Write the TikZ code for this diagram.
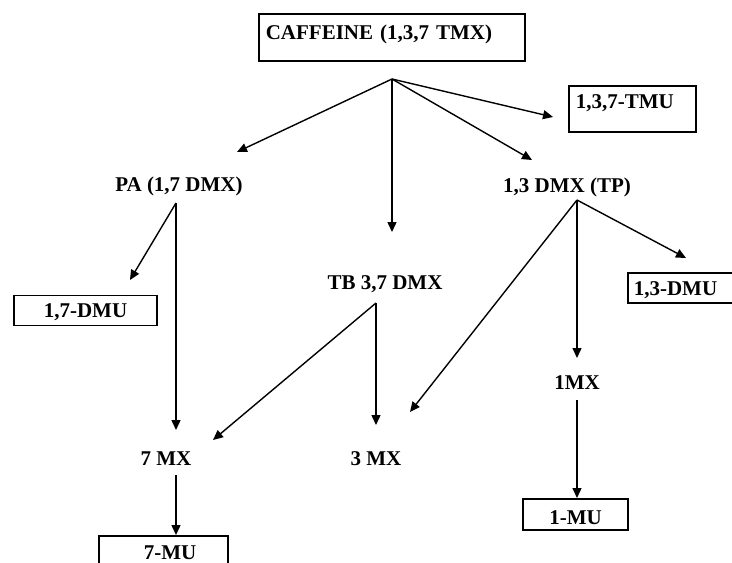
\documentclass[tikz,border=0pt]{standalone}
\usepackage{fontspec}
\setmainfont{Liberation Serif}
\usetikzlibrary{%
    arrows.meta,
    positioning
}
\tikzset{headarrow/.style = {-{Triangle[length=10pt,width=9pt]}, line width=1.4pt}}

\begin{document}
\begin{tikzpicture}[x=1pt, y=-1pt,
    chem/.style = {font=\fontsize{21}{24}\selectfont\bfseries,
        inner sep=0pt, text height=14pt, text depth=0pt},
    box/.style = {chem, draw, line width=1.6pt},
    leftbox/.style = {box, anchor=north west, align=left}]
    \useasboundingbox (0,0) rectangle (732,563);
    \clip (0,0) rectangle (732,563);

    % boxed products
    \node[leftbox, text width=252pt, inner xsep=7pt, inner ysep=11pt,
        text height=15pt, text depth=10pt] (caffeine) at (258,13) {CAFFEINE (1,3,7 TMX)};
    \node[leftbox, text width=113pt, inner xsep=7pt, inner ysep=8pt,
        text height=15pt, text depth=15pt] (tmu) at (568,85) {1,3,7-TMU};
    \node[box, minimum width=143pt, minimum height=30pt] (dmu17) at (85.5,310.5) {1,7-DMU};
    \node[leftbox, text width=104pt, inner xsep=6pt, inner ysep=7pt,
        text height=16pt] (dmu13) at (627,272) {1,3-DMU};
    \node[box, minimum width=105pt, inner ysep=5.5pt, text height=20pt,
        anchor=north] (mu1) at (575.5,498) {1-MU};
    \node[box, minimum width=129pt, inner ysep=10pt, text height=14pt,
        text depth=20pt, anchor=north] (mu7) at (163.5,535) {\hspace*{13pt}7-MU};

    % metabolites
    \node[chem] (pa) at (179,184.5) {PA (1,7 DMX)};
    \node[chem] (tb) at (385,282) {TB 3,7 DMX};
    \node[chem] (tp) at (567,185) {1,3 DMX (TP)};
    \node[chem] (mx1) at (577,382) {1MX};
    \node[chem] (mx7) at (166,458.5) {7 MX};
    \node[chem] (mx3) at (376,458.5) {3 MX};

    % branch points
    \coordinate (cafOut) at (392,79);
    \coordinate (paOut) at (176,203);
    \coordinate (tbOut) at (376,303);
    \coordinate (tpOut) at (577,200);
    \coordinate (mx1Out) at (577,400);
    \coordinate (mx7Out) at (176,475);

    % arrow tips
    \coordinate (paIn) at (237,152);
    \coordinate (tbIn) at (392,232);
    \coordinate (tpIn) at (532,160);
    \coordinate (tmuIn) at (553,117);
    \coordinate (dmu17In) at (130,280);
    \coordinate (mx7InA) at (176,430);
    \coordinate (mx7InB) at (213,440);
    \coordinate (mx3InA) at (376,425);
    \coordinate (mx3InB) at (410,412);
    \coordinate (mx1In) at (577,358);
    \coordinate (dmu13In) at (686,258);

    \draw[headarrow] (cafOut) to (paIn);
    \draw[headarrow] (cafOut) to (tbIn);
    \draw[headarrow] (cafOut) to (tpIn);
    \draw[headarrow] (cafOut) to (tmuIn);

    \draw[headarrow] (paOut) to (dmu17In);
    \draw[headarrow] (paOut) to (mx7InA);

    \draw[headarrow] (tbOut) to (mx7InB);
    \draw[headarrow] (tbOut) to (mx3InA);

    \draw[headarrow] (tpOut) to (mx3InB);
    \draw[headarrow] (tpOut) to (mx1In);
    \draw[headarrow] (tpOut) to (dmu13In);

    \draw[headarrow] (mx1Out) to (mx1Out |- mu1.north);
    \draw[headarrow] (mx7Out) to (mx7Out |- mu7.north);
\end{tikzpicture}
\end{document}
